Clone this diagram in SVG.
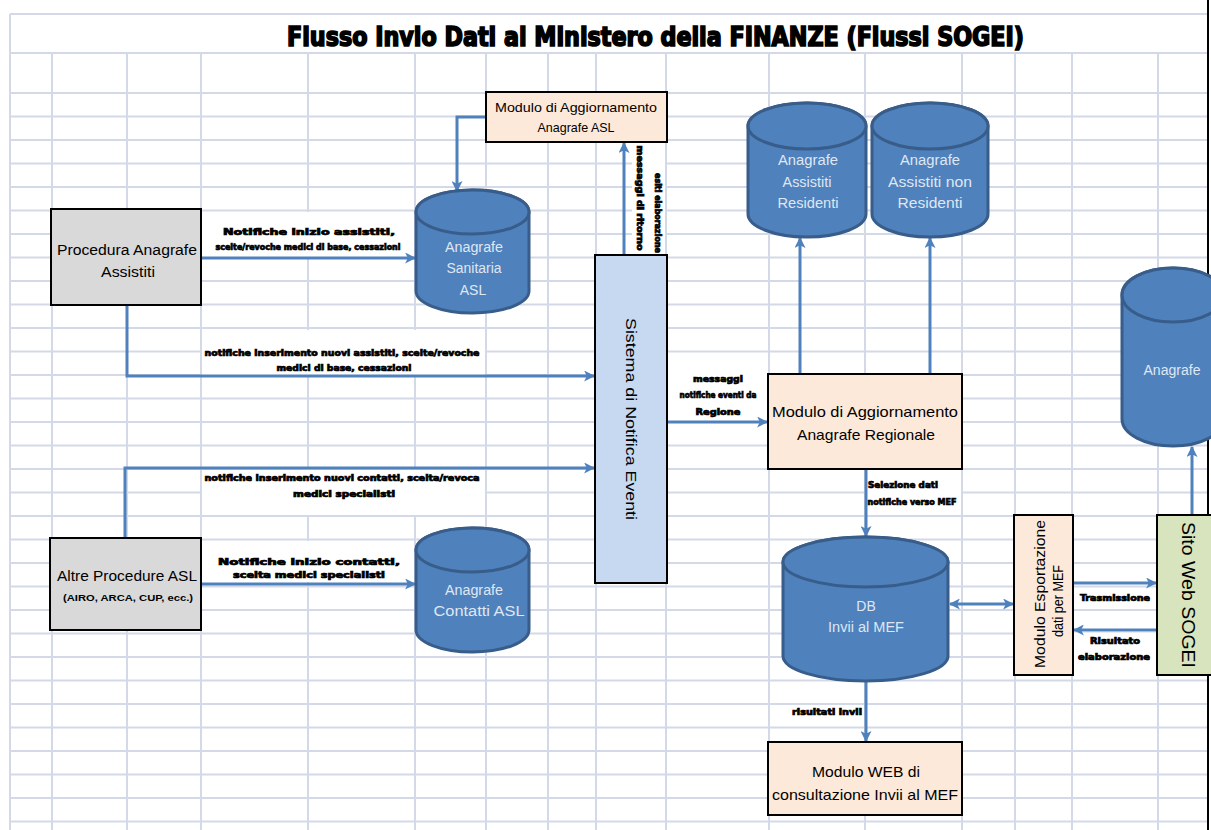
<svg xmlns="http://www.w3.org/2000/svg" width="1211" height="830" viewBox="0 0 1211 830">
<style>
.grid{stroke:#d3d9e6;stroke-width:2;fill:none}
.box{stroke:#000;stroke-width:2}
.peach{fill:#fde9d9}
.gray{fill:#d9d9d9}
.cyl{fill:#4f81bd;stroke:#385d8a;stroke-width:3}
.ct{font-family:"Liberation Sans",Arial,sans-serif;font-size:14px;fill:#dfe7f3;text-anchor:middle}
.bt{font-family:"Liberation Sans",Arial,sans-serif;font-size:14px;fill:#000;text-anchor:middle}
.lbl{font-family:"Liberation Sans Narrow","DejaVu Sans Condensed","Liberation Sans",sans-serif;font-size:8.5px;font-weight:bold;fill:#000;stroke:#000;stroke-width:0.7;text-anchor:middle}
.conn{fill:none;stroke:#4f81bd;stroke-width:3}
.wh{fill:#fff}
</style>
<defs>
<marker id="ah" viewBox="0 0 10 10" refX="9" refY="5" markerWidth="11" markerHeight="11" markerUnits="userSpaceOnUse" orient="auto-start-reverse">
<path d="M0,0 L10,5 L0,10 L2.5,5 Z" fill="#4f81bd"/>
</marker>
</defs>
<rect width="1211" height="830" fill="#fff"/>
<g id="grid">
<path class="grid" d="M10,14 H1208 M10,53 H1208 M10,14 V830
M10,93 H1208 M10,116.5 H1208 M10,140 H1208 M10,163.5 H1208 M10,187 H1208 M10,210.5 H1208 M10,234 H1208 M10,257.5 H1208 M10,281 H1208 M10,304.5 H1208 M10,328 H1208 M10,351.5 H1208 M10,375 H1208 M10,398.5 H1208 M10,422 H1208 M10,445.5 H1208 M10,469 H1208 M10,492.5 H1208 M10,516 H1208 M10,539.5 H1208 M10,563 H1208 M10,586.5 H1208 M10,610 H1208 M10,633.5 H1208 M10,657 H1208 M10,680.5 H1208 M10,704 H1208 M10,727.5 H1208 M10,751 H1208 M10,774.5 H1208 M10,798 H1208 M10,821.5 H1208
M52,53 V830 M127,53 V830 M201,53 V830 M308,53 V830 M415,53 V830 M486,53 V830 M548,53 V830 M596,53 V830 M666,53 V830 M769,53 V830 M865,53 V830 M962,53 V830 M1015,53 V830 M1072,53 V830 M1158,53 V830"/>
<path d="M1208,0 V830" stroke="#000" stroke-width="2"/>
<rect class="wh" x="202" y="212" width="212" height="45"/>
<rect class="wh" x="202" y="330" width="283" height="45"/>
<rect class="wh" x="202" y="470" width="283" height="45"/>
<rect class="wh" x="202" y="541" width="212" height="41"/>
<rect class="wh" x="668" y="353" width="100" height="68"/>
<rect class="wh" x="867" y="471" width="94" height="44"/>
<rect class="wh" x="632" y="143" width="33" height="111"/>
<rect class="wh" x="1074" y="588" width="82" height="20"/>
<rect class="wh" x="1074" y="633" width="82" height="36"/>
</g>
<text x="287" y="46" textLength="737" lengthAdjust="spacingAndGlyphs" font-family="'Liberation Sans Narrow','DejaVu Sans Condensed','Liberation Sans',sans-serif" font-size="26" font-weight="bold" stroke="#000" stroke-width="1.6" fill="#000">Flusso Invio Dati al  Ministero della FINANZE (Flussi SOGEI)</text>

<g id="connectors">
<path class="conn" d="M486,117 H457 V191" marker-end="url(#ah)"/>
<path class="conn" d="M201,258 H415" marker-end="url(#ah)"/>
<path class="conn" d="M624,255 V143" marker-end="url(#ah)"/>
<path class="conn" d="M127,305 V376 H594" marker-end="url(#ah)"/>
<path class="conn" d="M125,538 V468 H594" marker-end="url(#ah)"/>
<path class="conn" d="M201,584 H415" marker-end="url(#ah)"/>
<path class="conn" d="M667,422 H767" marker-end="url(#ah)"/>
<path class="conn" d="M800,374 V238" marker-end="url(#ah)"/>
<path class="conn" d="M930,374 V238" marker-end="url(#ah)"/>
<path class="conn" d="M866,469 V536" marker-end="url(#ah)"/>
<path class="conn" d="M950,604 H1013" marker-start="url(#ah)" marker-end="url(#ah)"/>
<path class="conn" d="M1073,583 H1156" marker-end="url(#ah)"/>
<path class="conn" d="M1157,630 H1074" marker-end="url(#ah)"/>
<path class="conn" d="M1192,515 V447" marker-end="url(#ah)"/>
<path class="conn" d="M866,681 V741" marker-end="url(#ah)"/>
<text class="lbl" x="309" y="235" textLength="172" lengthAdjust="spacingAndGlyphs">Notifiche inizio assistiti,</text>
<text class="lbl" x="308" y="250" textLength="185" lengthAdjust="spacingAndGlyphs">scelte/revoche medici di base, cessazioni</text>
<text class="lbl" x="342" y="356" textLength="275" lengthAdjust="spacingAndGlyphs">notifiche inserimento nuovi assistiti, scelte/revoche</text>
<text class="lbl" x="344" y="371" textLength="135" lengthAdjust="spacingAndGlyphs">medici di base, cessazioni</text>
<text class="lbl" x="342" y="481" textLength="275" lengthAdjust="spacingAndGlyphs">notifiche inserimento nuovi contatti, scelta/revoca</text>
<text class="lbl" x="344" y="497" textLength="102" lengthAdjust="spacingAndGlyphs">medici specialisti</text>
<text class="lbl" x="309" y="565" textLength="182" lengthAdjust="spacingAndGlyphs">Notifiche inizio contatti,</text>
<text class="lbl" x="309" y="578" textLength="152" lengthAdjust="spacingAndGlyphs">scelta medici specialisti</text>
<text class="lbl" x="718" y="382" textLength="50" lengthAdjust="spacingAndGlyphs">messaggi</text>
<text class="lbl" x="718" y="398" textLength="77" lengthAdjust="spacingAndGlyphs">notifiche eventi da</text>
<text class="lbl" x="718" y="415" textLength="45" lengthAdjust="spacingAndGlyphs">Regione</text>
<text class="lbl" x="903" y="488" textLength="70" lengthAdjust="spacingAndGlyphs">Selezione dati</text>
<text class="lbl" x="912" y="505" textLength="89" lengthAdjust="spacingAndGlyphs">notifiche verso MEF</text>
<text class="lbl" x="1115" y="601" textLength="70" lengthAdjust="spacingAndGlyphs">Trasmissione</text>
<text class="lbl" x="1115" y="644" textLength="50" lengthAdjust="spacingAndGlyphs">Risultato</text>
<text class="lbl" x="1114" y="660" textLength="72" lengthAdjust="spacingAndGlyphs">elaborazione</text>
<text class="lbl" x="827" y="715" textLength="70" lengthAdjust="spacingAndGlyphs">risultati invii</text>
<text class="lbl" transform="translate(640,198) rotate(90)" textLength="105" lengthAdjust="spacingAndGlyphs" y="3">messaggi di ritorno</text>
<text class="lbl" transform="translate(658,213) rotate(90)" textLength="80" lengthAdjust="spacingAndGlyphs" y="3">esiti elaborazione</text>
</g>

<g id="modulo-asl">
<rect class="box peach" x="486" y="92" width="181" height="50"/>
<text class="bt" x="576" y="112" style="font-size:13px" textLength="162" lengthAdjust="spacingAndGlyphs">Modulo di Aggiornamento</text>
<text class="bt" x="576" y="132" style="font-size:13px" textLength="77" lengthAdjust="spacingAndGlyphs">Anagrafe ASL</text>
</g>
<g id="procedura-anagrafe">
<rect class="box gray" x="51" y="209" width="150" height="96"/>
<text class="bt" x="127" y="255" textLength="140" lengthAdjust="spacingAndGlyphs">Procedura Anagrafe</text>
<text class="bt" x="128" y="277" textLength="54" lengthAdjust="spacingAndGlyphs">Assistiti</text>
</g>
<g id="anagrafe-sanitaria">
<path class="cyl" d="M416,212 A56.5,22 0 0 1 529,212 V291 A56.5,22 0 0 1 416,291 Z"/>
<ellipse class="cyl" cx="472.5" cy="212" rx="56.5" ry="22"/>
<text class="ct" x="474" y="252" textLength="58" lengthAdjust="spacingAndGlyphs">Anagrafe</text>
<text class="ct" x="474" y="273" textLength="55" lengthAdjust="spacingAndGlyphs">Sanitaria</text>
<text class="ct" x="473" y="295">ASL</text>
</g>
<g id="sistema-notifica">
<rect class="box" x="595" y="255" width="72" height="328" fill="#c6d9f1"/>
<text class="bt" transform="translate(626,419) rotate(90)" style="font-size:15px" textLength="202" lengthAdjust="spacingAndGlyphs">Sistema di Notifica Eventi</text>
</g>
<g id="altre-procedure">
<rect class="box gray" x="50" y="538" width="151" height="92"/>
<text class="bt" x="127" y="581" textLength="140" lengthAdjust="spacingAndGlyphs">Altre Procedure ASL</text>
<text class="bt" x="128" y="601" style="font-size:9px;font-weight:bold" textLength="130" lengthAdjust="spacingAndGlyphs">(AIRO, ARCA, CUP, ecc.)</text>
</g>
<g id="anagrafe-contatti">
<path class="cyl" d="M416,550 A56.5,22 0 0 1 529,550 V630 A56.5,22 0 0 1 416,630 Z"/>
<ellipse class="cyl" cx="472.5" cy="550" rx="56.5" ry="22"/>
<text class="ct" x="474" y="595" textLength="58" lengthAdjust="spacingAndGlyphs">Anagrafe</text>
<text class="ct" x="479" y="616" textLength="91" lengthAdjust="spacingAndGlyphs">Contatti ASL</text>
</g>
<g id="anagrafe-residenti">
<path class="cyl" d="M748,126 A59,23 0 0 1 866,126 V214 A59,23 0 0 1 748,214 Z"/>
<ellipse class="cyl" cx="807" cy="126" rx="59" ry="23"/>
<text class="ct" x="808" y="165" textLength="60" lengthAdjust="spacingAndGlyphs">Anagrafe</text>
<text class="ct" x="807" y="187" textLength="49" lengthAdjust="spacingAndGlyphs">Assistiti</text>
<text class="ct" x="808" y="208" textLength="61" lengthAdjust="spacingAndGlyphs">Residenti</text>
</g>
<g id="anagrafe-non-residenti">
<path class="cyl" d="M872,126 A58,23 0 0 1 988,126 V214 A58,23 0 0 1 872,214 Z"/>
<ellipse class="cyl" cx="930" cy="126" rx="58" ry="23"/>
<text class="ct" x="930" y="165" textLength="60" lengthAdjust="spacingAndGlyphs">Anagrafe</text>
<text class="ct" x="930" y="187" textLength="84" lengthAdjust="spacingAndGlyphs">Assistiti non</text>
<text class="ct" x="930" y="208" textLength="65" lengthAdjust="spacingAndGlyphs">Residenti</text>
</g>
<g id="modulo-regionale">
<rect class="box peach" x="768" y="374" width="194" height="95"/>
<text class="bt" x="865" y="417" style="font-size:15px" textLength="186" lengthAdjust="spacingAndGlyphs">Modulo di Aggiornamento</text>
<text class="bt" x="866" y="440" style="font-size:15px" textLength="138" lengthAdjust="spacingAndGlyphs">Anagrafe Regionale</text>
</g>
<g id="db-invii-mef">
<path class="cyl" d="M783,562 A82.5,25 0 0 1 948,562 V656 A82.5,25 0 0 1 783,656 Z"/>
<ellipse class="cyl" cx="865.5" cy="562" rx="82.5" ry="25"/>
<text class="ct" x="866" y="611">DB</text>
<text class="ct" x="866" y="632" textLength="76" lengthAdjust="spacingAndGlyphs">Invii al MEF</text>
</g>
<g id="modulo-esportazione">
<rect class="box peach" x="1014" y="515" width="59" height="160"/>
<text class="bt" transform="translate(1045,594) rotate(-90)" textLength="148" lengthAdjust="spacingAndGlyphs">Modulo Esportazione</text>
<text class="bt" transform="translate(1063,601) rotate(-90)" textLength="72" lengthAdjust="spacingAndGlyphs">dati per MEF</text>
</g>
<g id="sito-web-sogei">
<rect class="box" x="1157" y="515" width="80" height="160" fill="#d7e4bd"/>
<text class="bt" transform="translate(1182,595) rotate(90)" style="font-size:19px" textLength="146" lengthAdjust="spacingAndGlyphs">Sito Web  SOGEI</text>
</g>
<g id="anagrafe-sogei">
<path class="cyl" d="M1122,295 A51,27 0 0 1 1224,295 V419 A51,27 0 0 1 1122,419 Z"/>
<ellipse class="cyl" cx="1173" cy="295" rx="51" ry="27"/>
<text class="ct" x="1172" y="375" textLength="57" lengthAdjust="spacingAndGlyphs">Anagrafe</text>
</g>
<g id="modulo-web">
<rect class="box peach" x="768" y="742" width="194" height="73"/>
<text class="bt" x="866" y="777" style="font-size:15px" textLength="108" lengthAdjust="spacingAndGlyphs">Modulo WEB di</text>
<text class="bt" x="865" y="800" style="font-size:15px" textLength="186" lengthAdjust="spacingAndGlyphs">consultazione Invii al MEF</text>
</g>
</svg>
